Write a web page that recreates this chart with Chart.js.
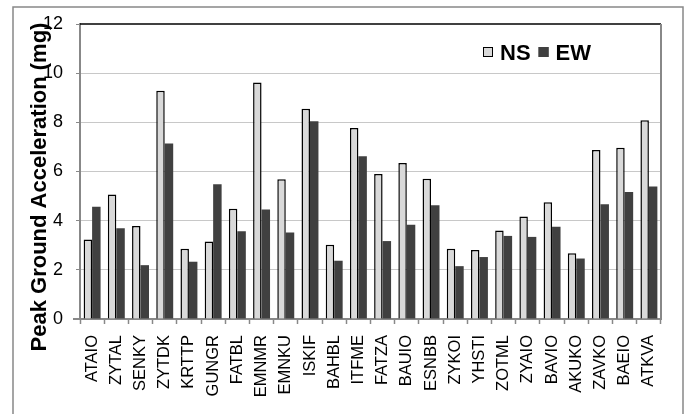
<!DOCTYPE html>
<html>
<head>
<meta charset="utf-8">
<script src="https://cdn.jsdelivr.net/npm/chart.js@4"></script>
<style>
  html, body { margin: 0; padding: 0; background: #fff; }
  #wrap { width: 688px; height: 414px; position: relative; }
</style>
</head>
<body>
<div id="wrap"><canvas id="grafico"></canvas></div>
<script>
const stazioni = ['ATAIO', 'ZYTAL', 'SENKY', 'ZYTDK', 'KRTTP', 'GUNGR', 'FATBL', 'EMNMR', 'EMNKU', 'ISKIF', 'BAHBL', 'ITFME',
                  'FATZA', 'BAUIO', 'ESNBB', 'ZYKOI', 'YHSTI', 'ZOTML', 'ZYAIO', 'BAVIO', 'AKUKO', 'ZAVKO', 'BAEIO', 'ATKVA'];
const valoriNS = [3.23, 5.06, 3.78, 9.28, 2.86, 3.15, 4.48, 9.62, 5.68, 8.55, 3.02, 7.77,
                  5.90, 6.35, 5.71, 2.86, 2.81, 3.60, 4.17, 4.75, 2.67, 6.87, 6.97, 8.08];
const valoriEW = [4.57, 3.69, 2.19, 7.14, 2.33, 5.48, 3.57, 4.45, 3.52, 8.04, 2.37, 6.62,
                  3.17, 3.83, 4.63, 2.15, 2.52, 3.38, 3.34, 3.75, 2.46, 4.67, 5.17, 5.39];
const yMax = 12;
const yStep = 2;
const titoloY = 'Peak Ground Acceleration (mg)';

const FONT = "'Liberation Sans', Arial, sans-serif";

// cornice esterna, bordo area grafico, titolo asse e legenda
const decorazioni = {
    id: 'decorazioni',
    afterDraw(chart) {
        const c = chart.ctx;
        const a = chart.chartArea;
        c.save();
        // cornice esterna
        c.strokeStyle = '#888';
        c.lineWidth = 1.5;
        c.beginPath();
        c.moveTo(13, 414);
        c.lineTo(13, 7);
        c.lineTo(683, 7);
        c.lineTo(683, 414);
        c.stroke();
        // bordo superiore (nero) e destro (grigio) dell'area
        c.strokeStyle = '#000';
        c.beginPath();
        c.moveTo(a.left, a.top);
        c.lineTo(a.right, a.top);
        c.stroke();
        c.strokeStyle = '#888';
        c.lineWidth = 2;
        c.beginPath();
        c.moveTo(a.right, a.top);
        c.lineTo(a.right, a.bottom);
        c.stroke();
        // l'asse x sporge un po' a sinistra
        c.beginPath();
        c.moveTo(73, a.bottom);
        c.lineTo(a.left, a.bottom);
        c.stroke();
        // titolo asse y (spostato in basso come nell'originale)
        c.fillStyle = '#000';
        c.font = 'bold 22px ' + FONT;
        c.textAlign = 'center';
        c.textBaseline = 'middle';
        c.translate(40, 187);
        c.rotate(-Math.PI / 2);
        c.fillText(titoloY, 0, 0);
        c.restore();

        // legenda
        c.save();
        c.font = 'bold 22px ' + FONT;
        c.textAlign = 'left';
        let x = 483;
        chart.data.datasets.forEach(ds => {
            c.fillStyle = ds.backgroundColor;
            c.fillRect(x, 47, 10, 10);
            c.strokeStyle = ds.borderWidth ? ds.borderColor : ds.backgroundColor;
            c.lineWidth = 1;
            c.strokeRect(x + 0.5, 47.5, 9, 9);
            c.fillStyle = '#000';
            c.fillText(ds.label, x + 17, 60);
            x += 17 + c.measureText(ds.label).width + 8;
        });
        c.restore();
    }
};

const ctx = document.getElementById('grafico').getContext('2d');

new Chart(ctx, {
    type: 'bar',
    data: {
        labels: stazioni,
        datasets: [{
            label: 'NS',
            data: valoriNS,
            backgroundColor: '#d9d9d9',
            borderColor: '#000',
            borderWidth: 1.5,
            borderSkipped: 'start'
        }, {
            label: 'EW',
            data: valoriEW,
            backgroundColor: '#404040',
            borderColor: '#404040',
            borderWidth: 0
        }]
    },
    options: {
        responsive: true,
        maintainAspectRatio: false,
        animation: false,
        categoryPercentage: 0.7,
        barPercentage: 1.0,
        layout: { padding: { top: 24, right: 27, left: 0, bottom: 0 } },
        scales: {
            x: {
                grid: {
                    offset: true,
                    drawOnChartArea: false,
                    tickLength: 5,
                    tickColor: '#888',
                    tickWidth: 1.5
                },
                border: { color: '#888', width: 2 },
                ticks: {
                    color: '#000',
                    font: { family: FONT, size: 16.5 },
                    minRotation: 90,
                    maxRotation: 90,
                    autoSkip: false,
                    padding: 11
                },
                afterFit(scale) { scale.height = 95; }
            },
            y: {
                min: 0,
                max: yMax,
                ticks: {
                    stepSize: yStep,
                    color: '#000',
                    font: { family: FONT, size: 18 },
                    padding: 13
                },
                grid: {
                    color: c => (c.tick && (c.tick.value === yMax || c.tick.value === 0)) ? 'rgba(0,0,0,0)' : '#c8c8c8',
                    borderDash: [1, 2],
                    tickColor: '#888',
                    tickLength: 4,
                    tickBorderDash: []
                },
                border: { color: '#888', width: 2 },
                afterFit(scale) { scale.width = 80; }
            }
        },
        plugins: {
            legend: { display: false },
            tooltip: { enabled: false }
        }
    },
    plugins: [decorazioni]
});
</script>
</body>
</html>
